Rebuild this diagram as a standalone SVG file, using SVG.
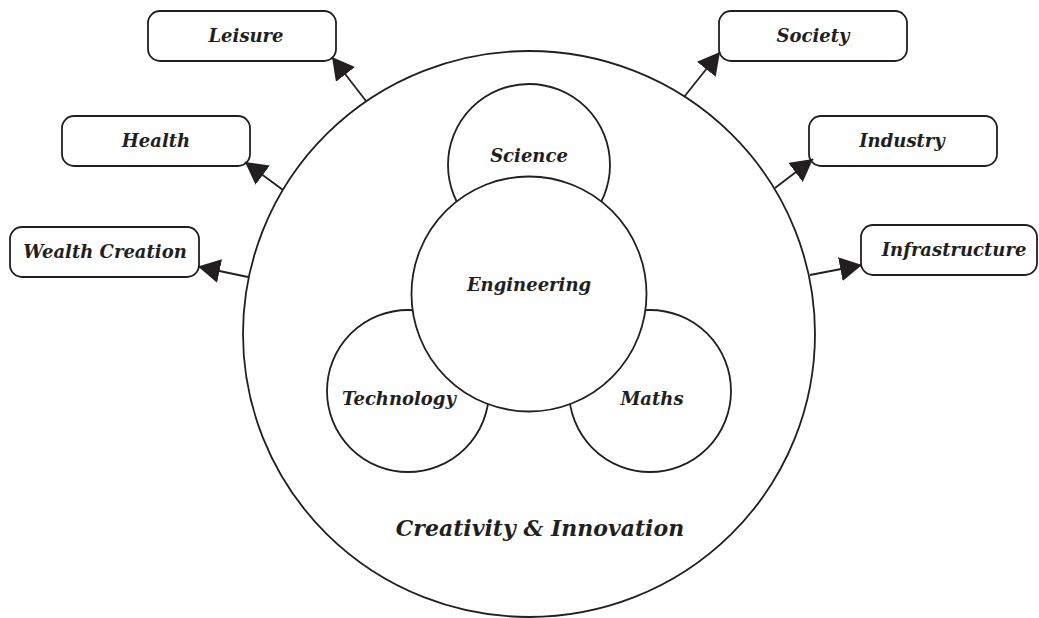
<svg xmlns="http://www.w3.org/2000/svg" width="1039" height="618" viewBox="0 0 1039 618">
  <style>
    .shape { fill: #ffffff; stroke: #231f20; stroke-width: 1.8; }
    .box { fill: #ffffff; stroke: #231f20; stroke-width: 1.8; }
    .link { fill: none; stroke: #231f20; stroke-width: 1.8; marker-end: url(#head); }
    .label { font-family: "DejaVu Serif", "Liberation Serif", serif; font-weight: bold; font-style: italic; font-size: 18px; fill: #231f20; text-anchor: middle; }
    .big { font-size: 22px; }
  </style>
  <defs>
    <marker id="head" markerUnits="userSpaceOnUse" markerWidth="24" markerHeight="26" refX="22" refY="12" orient="auto">
      <path d="M0,0 L22,12 L0,24 Z" fill="#231f20"/>
    </marker>
  </defs>
  <rect width="1039" height="618" fill="#ffffff"/>

  <!-- outer field -->
  <g id="creativity">
    <ellipse class="shape" cx="529" cy="334" rx="286" ry="283"/>
    <text class="label big" x="540" y="536">Creativity &amp; Innovation</text>
  </g>

  <!-- four disciplines -->
  <g id="science">
    <circle class="shape" cx="529" cy="165" r="81"/>
    <text class="label" x="529" y="162">Science</text>
  </g>
  <g id="technology">
    <circle class="shape" cx="408" cy="391" r="81"/>
    <text class="label" x="399" y="405">Technology</text>
  </g>
  <g id="maths">
    <circle class="shape" cx="650" cy="391" r="81"/>
    <text class="label" x="652" y="405">Maths</text>
  </g>
  <g id="engineering">
    <circle class="shape" cx="529" cy="294" r="117.5"/>
    <text class="label" x="529" y="291">Engineering</text>
  </g>

  <!-- outcome boxes -->
  <g id="leisure">
    <rect class="box" x="148" y="11" width="188" height="50" rx="12"/>
    <text class="label" x="246" y="42">Leisure</text>
  </g>
  <g id="health">
    <rect class="box" x="62" y="116" width="188" height="50" rx="12"/>
    <text class="label" x="156" y="147">Health</text>
  </g>
  <g id="wealth-creation">
    <rect class="box" x="10" y="227" width="189" height="50" rx="12"/>
    <text class="label" x="105" y="258">Wealth Creation</text>
  </g>
  <g id="society">
    <rect class="box" x="719" y="11" width="188" height="50" rx="12"/>
    <text class="label" x="813" y="42">Society</text>
  </g>
  <g id="industry">
    <rect class="box" x="809" y="116" width="188" height="50" rx="12"/>
    <text class="label" x="902" y="147">Industry</text>
  </g>
  <g id="infrastructure">
    <rect class="box" x="861" y="225" width="176" height="50" rx="12"/>
    <text class="label" x="954" y="256">Infrastructure</text>
  </g>

  <!-- connectors -->
  <g id="connectors">
    <line class="link" x1="366" y1="101" x2="332" y2="57"/>
    <line class="link" x1="283" y1="190" x2="245" y2="162"/>
    <line class="link" x1="248" y1="277" x2="198" y2="266.5"/>
    <line class="link" x1="684" y1="97" x2="720" y2="52"/>
    <line class="link" x1="775" y1="188" x2="813" y2="159"/>
    <line class="link" x1="810" y1="275" x2="862" y2="265"/>
  </g>
</svg>
